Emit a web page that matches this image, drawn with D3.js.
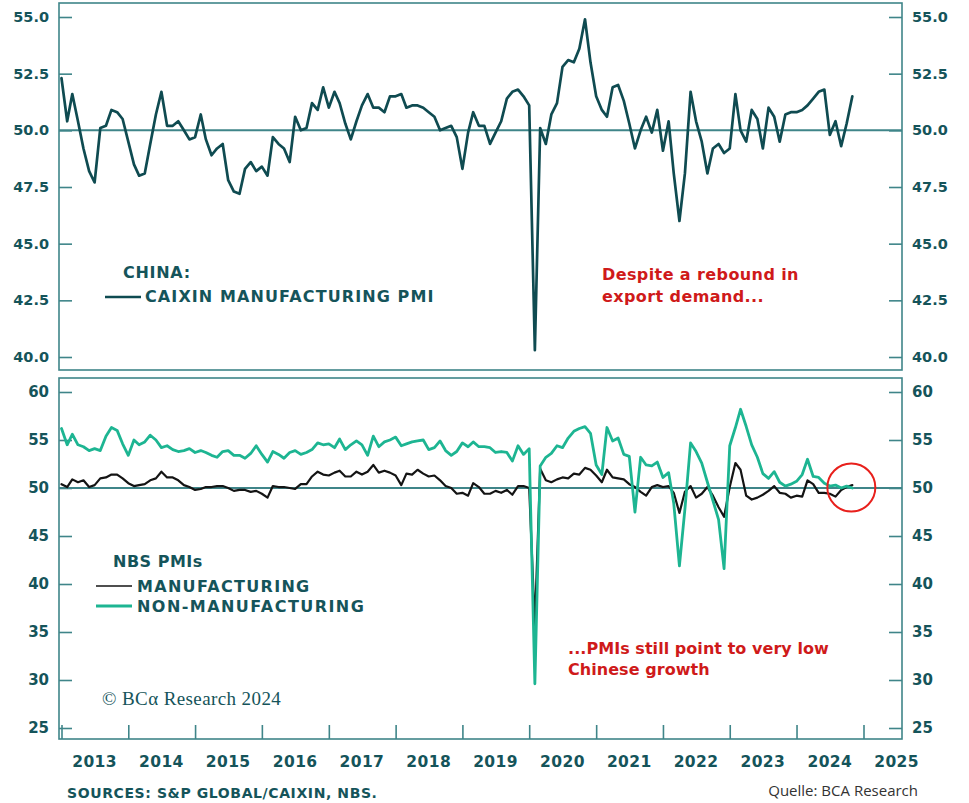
<!DOCTYPE html>
<html>
<head>
<meta charset="utf-8">
<script src="https://cdn.jsdelivr.net/npm/d3@7"></script>
<style>
  html, body { margin: 0; padding: 0; background: #ffffff; }
  svg { display: block; }
</style>
</head>
<body>
<svg id="chart" width="969" height="803"></svg>
<script>
// ---- Data: monthly readings, January 2013 to November 2024 ----
const firstMonth = "2013-01";

const caixinMfg = [
  52.3, 50.4, 51.6, 50.4, 49.2, 48.2, 47.7, 50.1, 50.2, 50.9, 50.8, 50.5,
  49.5, 48.5, 48.0, 48.1, 49.4, 50.7, 51.7, 50.2, 50.2, 50.4, 50.0, 49.6,
  49.7, 50.7, 49.6, 48.9, 49.2, 49.4, 47.8, 47.3, 47.2, 48.3, 48.6, 48.2,
  48.4, 48.0, 49.7, 49.4, 49.2, 48.6, 50.6, 50.0, 50.1, 51.2, 50.9, 51.9,
  51.0, 51.7, 51.2, 50.3, 49.6, 50.4, 51.1, 51.6, 51.0, 51.0, 50.8, 51.5,
  51.5, 51.6, 51.0, 51.1, 51.1, 51.0, 50.8, 50.6, 50.0, 50.1, 50.2, 49.7,
  48.3, 49.9, 50.8, 50.2, 50.2, 49.4, 49.9, 50.4, 51.4, 51.7, 51.8, 51.5,
  51.1, 40.3, 50.1, 49.4, 50.7, 51.2, 52.8, 53.1, 53.0, 53.6, 54.9, 53.0,
  51.5, 50.9, 50.6, 51.9, 52.0, 51.3, 50.3, 49.2, 50.0, 50.6, 49.9, 50.9,
  49.1, 50.4, 48.1, 46.0, 48.1, 51.7, 50.4, 49.5, 48.1, 49.2, 49.4, 49.0,
  49.2, 51.6, 50.0, 49.5, 50.9, 50.5, 49.2, 51.0, 50.6, 49.5, 50.7, 50.8,
  50.8, 50.9, 51.1, 51.4, 51.7, 51.8, 49.8, 50.4, 49.3, 50.3, 51.5
];

const nbsMfg = [
  50.4, 50.1, 50.9, 50.6, 50.8, 50.1, 50.3, 51.0, 51.1, 51.4, 51.4, 51.0,
  50.5, 50.2, 50.3, 50.4, 50.8, 51.0, 51.7, 51.1, 51.1, 50.8, 50.3, 50.1,
  49.8, 49.9, 50.1, 50.1, 50.2, 50.2, 50.0, 49.7, 49.8, 49.8, 49.6, 49.7,
  49.4, 49.0, 50.2, 50.1, 50.1, 50.0, 49.9, 50.4, 50.4, 51.2, 51.7, 51.4,
  51.3, 51.6, 51.8, 51.2, 51.2, 51.7, 51.4, 51.7, 52.4, 51.6, 51.8, 51.6,
  51.3, 50.3, 51.5, 51.4, 51.9, 51.5, 51.2, 51.3, 50.8, 50.2, 50.0, 49.4,
  49.5, 49.2, 50.5, 50.1, 49.4, 49.4, 49.7, 49.5, 49.8, 49.3, 50.2, 50.2,
  50.0, 35.7, 52.0, 50.8, 50.6, 50.9, 51.1, 51.0, 51.5, 51.4, 52.1, 51.9,
  51.3, 50.6, 51.9, 51.1, 51.0, 50.9, 50.4, 50.1, 49.6, 49.2, 50.1, 50.3,
  50.1, 50.2, 49.5, 47.4, 49.6, 50.2, 49.0, 49.4, 50.1, 49.2, 48.0, 47.0,
  50.1, 52.6, 51.9, 49.2, 48.8, 49.0, 49.3, 49.7, 50.2, 49.5, 49.4, 49.0,
  49.2, 49.1, 50.8, 50.4, 49.5, 49.5, 49.4, 49.1, 49.8, 50.1, 50.3
];

const nbsNonMfg = [
  56.2, 54.5, 55.6, 54.5, 54.3, 53.9, 54.1, 53.9, 55.4, 56.3, 56.0, 54.6,
  53.4, 55.0, 54.5, 54.8, 55.5, 55.0, 54.2, 54.4, 54.0, 53.8, 53.9, 54.1,
  53.7, 53.9, 53.7, 53.4, 53.2, 53.8, 53.9, 53.4, 53.4, 53.1, 53.6, 54.4,
  53.5, 52.7, 53.8, 53.5, 53.1, 53.7, 53.9, 53.5, 53.7, 54.0, 54.7, 54.5,
  54.6, 54.2, 55.1, 54.0, 54.5, 54.9, 54.5, 53.4, 55.4, 54.3, 54.8, 55.0,
  55.3, 54.4, 54.6, 54.8, 54.9, 55.0, 54.0, 54.2, 54.9, 53.9, 53.4, 53.8,
  54.7, 54.3, 54.8, 54.3, 54.3, 54.2, 53.7, 53.8, 53.7, 52.8, 54.4, 53.5,
  54.1, 29.6, 52.3, 53.2, 53.6, 54.4, 54.2, 55.2, 55.9, 56.2, 56.4, 55.7,
  52.4, 51.4, 56.3, 54.9, 55.2, 53.5, 53.3, 47.5, 53.2, 52.4, 52.3, 52.7,
  51.1, 51.6, 48.4, 41.9, 47.8, 54.7, 53.8, 52.6, 50.6, 48.7, 46.7, 41.6,
  54.4, 56.3, 58.2, 56.4, 54.5, 53.2, 51.5, 51.0, 51.7, 50.6, 50.2, 50.4,
  50.7, 51.4, 53.0, 51.2, 51.1, 50.5, 50.2, 50.3, 50.0, 50.2, 50.0
];

const yearLabels = ["2013", "2014", "2015", "2016", "2017", "2018", "2019",
                    "2020", "2021", "2022", "2023", "2024", "2025"];
const topTicks = [40, 42.5, 45, 47.5, 50, 52.5, 55];
const bottomTicks = [25, 30, 35, 40, 45, 50, 55, 60];

// ---- Styling ----
const frameColor = "#3f8589";
const textColor = "#15545a";
const caixinColor = "#0f4b51";
const nonMfgColor = "#1db592";
const mfgColor = "#141414";
const noteColor = "#cf1a1a";
const labelFont = "'DejaVu Sans', sans-serif";

const svg = d3.select("#chart");
const left = 59, right = 902;

const parseMonth = d3.timeParse("%Y-%m");
const start = parseMonth(firstMonth);
const monthDate = i => d3.timeMonth.offset(start, i);

const x = d3.scaleTime()
  .domain([new Date(2013, 0, 1), new Date(2025, 0, 1)])
  .range([61.5, 863.5]);

const panels = {
  top: { y0: 3, y1: 370 },
  bottom: { y0: 378, y1: 739 }
};

const yTop = d3.scaleLinear().domain([40, 55]).range([357, 17]);
const yBot = d3.scaleLinear().domain([25, 60]).range([728, 392]);

// Frames
Object.values(panels).forEach(p => {
  svg.append("rect")
    .attr("x", left).attr("y", p.y0)
    .attr("width", right - left).attr("height", p.y1 - p.y0)
    .attr("fill", "none").attr("stroke", frameColor).attr("stroke-width", 1.6);
});

function styleAxis(g, fontSize) {
  g.select(".domain").remove();
  g.selectAll(".tick line").attr("stroke", frameColor).attr("stroke-width", 1.6);
  g.selectAll(".tick text")
    .attr("fill", textColor)
    .attr("font-family", labelFont)
    .attr("font-weight", "bold")
    .attr("font-size", fontSize);
}

// Top panel axes (ticks point inward on both sides)
svg.append("g").attr("transform", `translate(${left},0)`)
  .call(d3.axisLeft(yTop).tickValues(topTicks).tickSize(-13).tickPadding(10).tickFormat(d3.format(".1f")))
  .call(g => styleAxis(g, 14.5));
svg.append("g").attr("transform", `translate(${right},0)`)
  .call(d3.axisRight(yTop).tickValues(topTicks).tickSize(-13).tickPadding(10).tickFormat(d3.format(".1f")))
  .call(g => styleAxis(g, 14.5));

// Bottom panel axes
svg.append("g").attr("transform", `translate(${left},0)`)
  .call(d3.axisLeft(yBot).tickValues(bottomTicks).tickSize(-13).tickPadding(10).tickFormat(d3.format("d")))
  .call(g => styleAxis(g, 15));
svg.append("g").attr("transform", `translate(${right},0)`)
  .call(d3.axisRight(yBot).tickValues(bottomTicks).tickSize(-13).tickPadding(10).tickFormat(d3.format("d")))
  .call(g => styleAxis(g, 15));

// Year ticks at the bottom, labels centred within each year
const yearStarts = yearLabels.map(y => new Date(+y, 0, 1));
svg.append("g").attr("transform", `translate(0,${panels.bottom.y1})`)
  .call(d3.axisBottom(x).tickValues(yearStarts).tickSize(-14).tickFormat(""))
  .call(g => styleAxis(g, 15));

svg.append("g").selectAll("text")
  .data(yearLabels)
  .join("text")
  .attr("x", d => x(new Date(+d, 6, 1)))
  .attr("y", 767)
  .attr("text-anchor", "middle")
  .attr("fill", textColor)
  .attr("font-family", labelFont)
  .attr("font-weight", "bold")
  .attr("font-size", 15.5)
  .attr("letter-spacing", 0.4)
  .text(d => d);

// 50 reference lines
[yTop, yBot].forEach(ys => {
  svg.append("line")
    .attr("x1", left).attr("x2", right)
    .attr("y1", ys(50)).attr("y2", ys(50))
    .attr("stroke", frameColor).attr("stroke-width", 2);
});

function drawSeries(values, ys, color, width) {
  const line = d3.line()
    .x((d, i) => x(monthDate(i)))
    .y(d => ys(d))
    .curve(d3.curveLinear);
  svg.append("path")
    .datum(values)
    .attr("d", line)
    .attr("fill", "none")
    .attr("stroke", color)
    .attr("stroke-width", width)
    .attr("stroke-linejoin", "round")
    .attr("stroke-linecap", "round");
}

drawSeries(caixinMfg, yTop, caixinColor, 2.7);
drawSeries(nbsMfg, yBot, mfgColor, 2.2);
drawSeries(nbsNonMfg, yBot, nonMfgColor, 2.8);

// Legends
function legendText(xPos, yPos, str, spacing) {
  svg.append("text")
    .attr("x", xPos).attr("y", yPos)
    .attr("fill", textColor)
    .attr("font-family", labelFont)
    .attr("font-weight", "bold")
    .attr("font-size", 16)
    .attr("letter-spacing", spacing)
    .text(str);
}
function legendLine(x1, x2, yPos, color, w) {
  svg.append("line")
    .attr("x1", x1).attr("x2", x2).attr("y1", yPos).attr("y2", yPos)
    .attr("stroke", color).attr("stroke-width", w);
}

legendText(123, 278, "CHINA:", 0.7);
legendLine(105, 141, 297, caixinColor, 2.6);
legendText(145, 302, "CAIXIN MANUFACTURING PMI", 1.1);

legendText(113, 567, "NBS PMIs", 0.5);
legendLine(96, 132, 586, mfgColor, 1.6);
legendText(137, 592, "MANUFACTURING", 1.3);
legendLine(96, 132, 606, nonMfgColor, 3);
legendText(137, 612, "NON-MANUFACTURING", 1.45);

// Annotations
function note(xPos, yPos, str, spacing) {
  svg.append("text")
    .attr("x", xPos).attr("y", yPos)
    .attr("fill", noteColor)
    .attr("font-family", labelFont)
    .attr("font-weight", "bold")
    .attr("font-size", 16)
    .attr("letter-spacing", spacing)
    .text(str);
}
note(602, 280, "Despite a rebound in", 0.4);
note(602, 302, "export demand...", 0.4);
note(568, 654, "...PMIs still point to very low", 0.05);
note(568, 675, "Chinese growth", 0.05);

// Highlight of the latest readings
const lastIdx = nbsMfg.length - 1;
svg.append("circle")
  .attr("cx", x(monthDate(lastIdx)) - 1)
  .attr("cy", yBot(50) - 0.5)
  .attr("r", 24)
  .attr("fill", "none")
  .attr("stroke", "#e8201c")
  .attr("stroke-width", 2);

// Copyright, sources and credit
svg.append("text")
  .attr("x", 102).attr("y", 705)
  .attr("fill", textColor)
  .attr("font-family", "'Liberation Serif', 'DejaVu Serif', serif")
  .attr("font-size", 19)
  .attr("letter-spacing", 0.4)
  .text("© BCα Research 2024");

svg.append("text")
  .attr("x", 67).attr("y", 798)
  .attr("fill", textColor)
  .attr("font-family", labelFont)
  .attr("font-weight", "bold")
  .attr("font-size", 14)
  .attr("letter-spacing", 0.6)
  .text("SOURCES: S&P GLOBAL/CAIXIN, NBS.");

svg.append("text")
  .attr("x", 918).attr("y", 796)
  .attr("text-anchor", "end")
  .attr("fill", "#333333")
  .attr("font-family", "'Open Sans', sans-serif")
  .attr("font-size", 15)
  .text("Quelle: BCA Research");
</script>
</body>
</html>
